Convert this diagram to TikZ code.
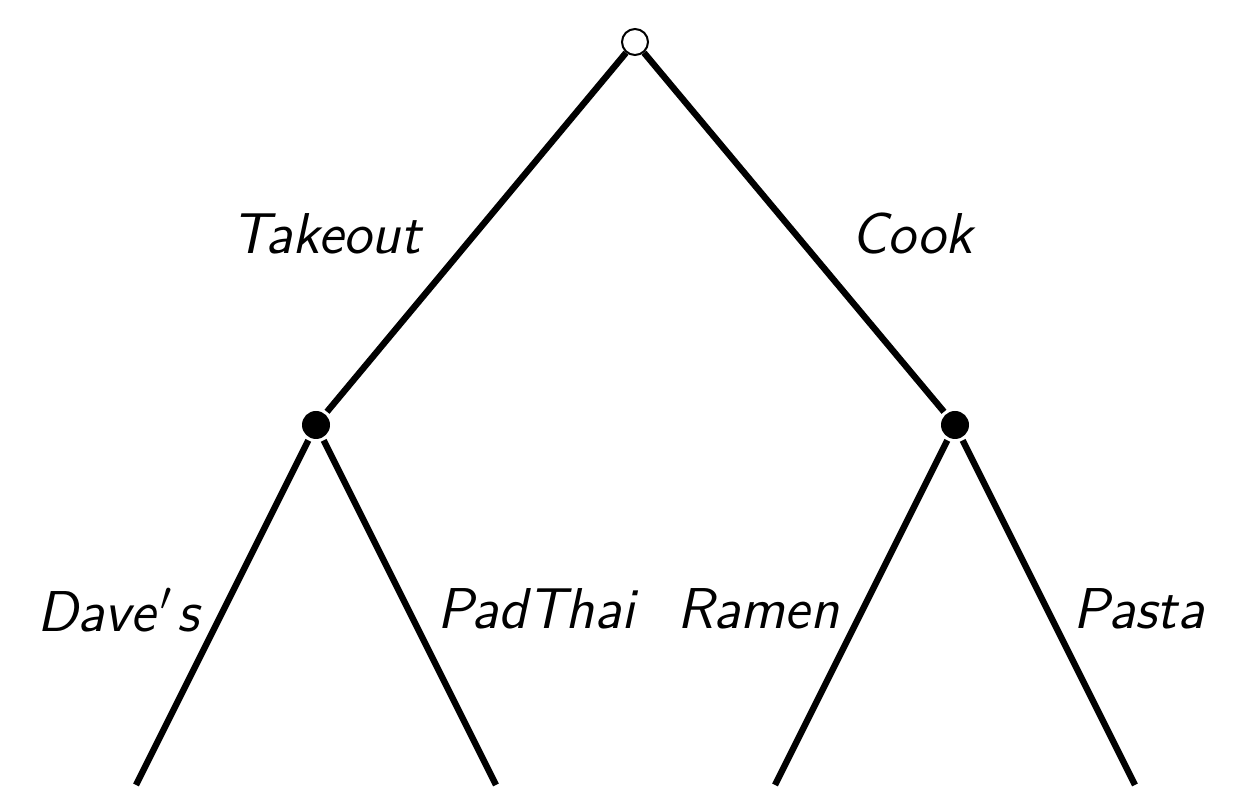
\documentclass[tikz,border=0pt]{standalone}
\tikzset{every picture/.style={line width=1.6pt}}
\tikzset{
  opennode/.style={circle,draw,fill=white,line width=0.5pt,inner sep=0pt,minimum size=6.5pt},
  solidnode/.style={circle,fill=black,inner sep=0pt,minimum size=7pt},
  movelabel/.style={inner sep=0.75pt,font=\fontsize{14.4}{17}\selectfont\sffamily\itshape}
}
\begin{document}
\begin{tikzpicture}[x=0.25pt,y=0.25pt,yscale=-1,xscale=1]
\useasboundingbox (0,0) rectangle (1256,810);

% Leaves
\coordinate (d) at (136,785);
\coordinate (p) at (496,785);
\coordinate (r) at (775,785);
\coordinate (s) at (1135,785);
% Decision nodes
\node [solidnode] (t) at (316,425) {};
\node [solidnode] (c) at (955,425) {};
\node [opennode] (root) at (635,42) {};
% Connection
\draw (root) -- (t);
\draw (root) -- (c);
\draw (t) -- (d);
\draw (t) -- (p);
\draw (c) -- (r);
\draw (c) -- (s);
% Text Node
\draw (326,234) node [movelabel] (takeout) {Takeout};
\draw (912,234) node [movelabel] (cook) {Cook};
\draw (118,610) node [movelabel] (daves) {Dave\kern1.2pt$'$\kern1pt s};
\draw (536,609) node [movelabel] (padthai) {PadThai};
\draw (758,609) node [movelabel] (ramen) {Ramen};
\draw (1139,609) node [movelabel] (pasta) {Pasta};

\end{tikzpicture}
\end{document}
